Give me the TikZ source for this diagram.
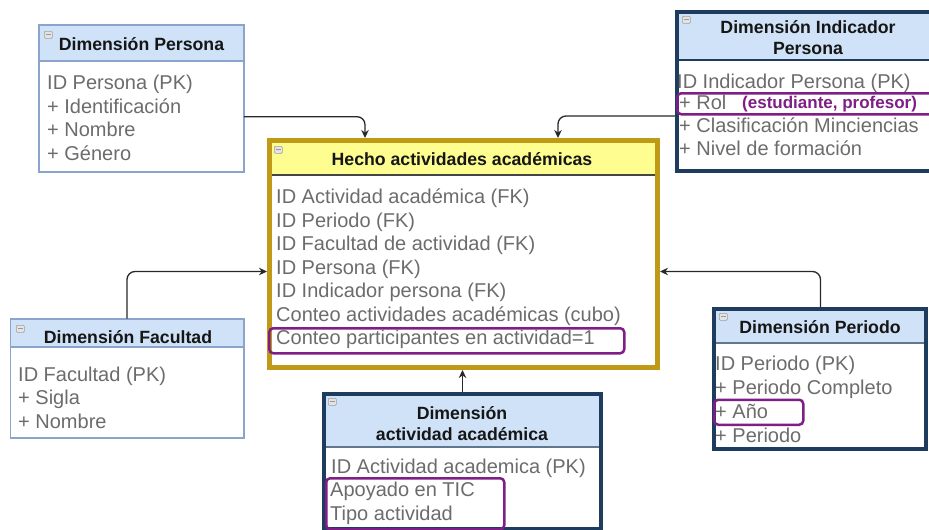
\documentclass[tikz,border=0pt]{standalone}
\usepackage{fontspec}
\setmainfont{Liberation Sans}
\usetikzlibrary{arrows.meta}
\definecolor{hdrblue}{RGB}{207,226,247}
\definecolor{lightborder}{RGB}{138,164,204}
\definecolor{navy}{RGB}{30,61,94}
\definecolor{goldc}{RGB}{192,154,22}
\definecolor{hechoyellow}{RGB}{254,254,144}
\definecolor{hlpurple}{RGB}{126,30,134}
\definecolor{bodygray}{RGB}{108,108,108}
\definecolor{titleblack}{RGB}{22,22,22}
\definecolor{connc}{RGB}{40,40,40}
\begin{document}
\begin{tikzpicture}[x=1pt,y=-1pt,
  frame/.style={draw, inner sep=0pt, outer sep=0pt, anchor=north west},
  lightframe/.style={frame, draw=lightborder, line width=1.5pt},
  darkframe/.style={frame, draw=navy, line width=4pt},
  hdr/.style={fill=hdrblue, inner sep=0pt, outer sep=0pt, anchor=north west},
  ttl/.style={font=\fontsize{17.7}{21}\selectfont\bfseries, text=titleblack, inner sep=0pt, anchor=base},
  attr/.style={font=\fontsize{20}{24}\selectfont, text=bodygray, inner sep=0pt, anchor=base west},
  note/.style={font=\fontsize{17}{20}\selectfont\bfseries, text=hlpurple, inner sep=0pt, anchor=base west},
  hl/.style={draw=hlpurple, line width=2.5pt, rounded corners=4pt},
  conn/.style={draw=connc, line width=1.3pt, rounded corners=8pt, -{Stealth[length=8pt,width=7.5pt]}},
  icon/.style={draw=gray!75, fill=gray!22, rounded corners=1pt, line width=0.6pt, minimum width=8pt, minimum height=7pt, inner sep=0pt, anchor=north west}
]
\useasboundingbox[fill=white] (0,0) rectangle (929,530);

% ---------- Dimension Persona ----------
\fill[white] (39,25) rectangle (244,172);
\node[hdr, minimum width=205pt, minimum height=36pt] (perH) at (39,25) {};
\draw[lightborder, line width=1.5pt] (perH.south west) -- (perH.south east);
\node[lightframe, minimum width=205pt, minimum height=147pt] (per) at (39,25) {};
\node[icon] (perI) at (44,31) {};
\draw[gray!80, line width=0.8pt] ([xshift=2pt]perI.west) -- ([xshift=-2pt]perI.east);
\node[ttl] (perT) at (141.5,50.5) {Dimensión Persona};
\node[attr] (per1) at (47,89.5) {ID Persona (PK)};
\node[attr] (per2) at (47,113) {+ Identificación};
\node[attr] (per3) at (47,136.5) {+ Nombre};
\node[attr] (per4) at (47,160) {+ Género};

% ---------- Dimension Indicador Persona ----------
\fill[white] (677,12) rectangle (939,171);
\node[hdr, minimum width=262pt, minimum height=48pt] (indH) at (677,12) {};
\draw[navy, line width=1.2pt] (indH.south west) -- (indH.south east);
\node[darkframe, minimum width=262pt, minimum height=159pt] (ind) at (677,12) {};
\node[icon] (indI) at (682,16) {};
\draw[gray!80, line width=0.8pt] ([xshift=2pt]indI.west) -- ([xshift=-2pt]indI.east);
\node[ttl] (indT1) at (808,33) {Dimensión Indicador};
\node[ttl] (indT2) at (808,54) {Persona};
\node[attr] (ind1) at (677,88) {ID Indicador Persona (PK)};
\node[hl, minimum width=262pt, minimum height=21pt, inner sep=0pt, anchor=north west] (indHL) at (676,92) {};
\node[attr] (ind2) at (679,109) {+ Rol};
\node[note] (ind2n) at (742,108.5) {(estudiante, profesor)};
\node[attr] (ind3) at (679,132) {+ Clasificación Minciencias};
\node[attr] (ind4) at (679,155) {+ Nivel de formación};

% ---------- Hecho actividades academicas ----------
\fill[white] (267,138) rectangle (660,370);
\node[fill=hechoyellow, inner sep=0pt, outer sep=0pt, anchor=north west, minimum width=383pt, minimum height=32pt] (hecH) at (272,143) {};
\draw[titleblack!80, line width=1.3pt] (hecH.south west) -- (hecH.south east);
\node[frame, draw=goldc, line width=5pt, minimum width=388pt, minimum height=227pt] (hecho) at (269.5,140.5) {};
\node[icon] (hecI) at (274,146) {};
\draw[gray!80, line width=0.8pt] ([xshift=2pt]hecI.west) -- ([xshift=-2pt]hecI.east);
\node[ttl] (hecT) at (462,165) {Hecho actividades académicas};
\node[attr] (hec1) at (276,203.5) {ID Actividad académica (FK)};
\node[attr] (hec2) at (276,227) {ID Periodo (FK)};
\node[attr] (hec3) at (276,250.5) {ID Facultad de actividad (FK)};
\node[attr] (hec4) at (276,274) {ID Persona (FK)};
\node[attr] (hec5) at (276,297.5) {ID Indicador persona (FK)};
\node[attr] (hec6) at (276,321) {Conteo actividades académicas (cubo)};
\node[hl, minimum width=355pt, minimum height=25pt, inner sep=0pt, anchor=north west] (hecHL) at (268,327) {};
\node[attr] (hec7) at (276,344.5) {Conteo participantes en actividad=1};

% ---------- Dimension Facultad ----------
\fill[white] (10.5,319) rectangle (244,438);
\node[hdr, minimum width=233.5pt, minimum height=28pt] (facH) at (10.5,319) {};
\draw[lightborder, line width=1.5pt] (facH.south west) -- (facH.south east);
\node[lightframe, minimum width=233.5pt, minimum height=119pt] (fac) at (10.5,319) {};
\node[icon] (facI) at (16,325) {};
\draw[gray!80, line width=0.8pt] ([xshift=2pt]facI.west) -- ([xshift=-2pt]facI.east);
\node[ttl] (facT) at (128,343) {Dimensión Facultad};
\node[attr] (fac1) at (18,381) {ID Facultad (PK)};
\node[attr] (fac2) at (18,404.5) {+ Sigla};
\node[attr] (fac3) at (18,428) {+ Nombre};

% ---------- Dimension Periodo ----------
\fill[white] (714,309) rectangle (926,449);
\node[hdr, minimum width=212pt, minimum height=34pt] (prdH) at (714,309) {};
\draw[navy!70, line width=1.2pt] (prdH.south west) -- (prdH.south east);
\node[darkframe, minimum width=212pt, minimum height=140pt] (prd) at (714,309) {};
\node[icon] (prdI) at (719,313) {};
\draw[gray!80, line width=0.8pt] ([xshift=2pt]prdI.west) -- ([xshift=-2pt]prdI.east);
\node[ttl] (prdT) at (820,333) {Dimensión Periodo};
\node[attr] (prd1) at (715,370) {ID Periodo (PK)};
\node[attr] (prd2) at (715,394) {+ Periodo Completo};
\node[hl, minimum width=89pt, minimum height=25pt, inner sep=0pt, anchor=north west] (prdHL) at (713,398.5) {};
\node[attr] (prd3) at (715,418) {+ Año};
\node[attr] (prd4) at (715,442) {+ Periodo};

% ---------- Dimension actividad academica ----------
\fill[white] (323.5,394) rectangle (601,529);
\node[hdr, minimum width=277.5pt, minimum height=53pt] (actH) at (323.5,394) {};
\draw[navy!70, line width=1.2pt] (actH.south west) -- (actH.south east);
\node[darkframe, minimum width=277.5pt, minimum height=135pt] (act) at (323.5,394) {};
\node[icon] (actI) at (328,398) {};
\draw[gray!80, line width=0.8pt] ([xshift=2pt]actI.west) -- ([xshift=-2pt]actI.east);
\node[ttl] (actT1) at (462,419.5) {Dimensión};
\node[ttl] (actT2) at (462,440) {actividad académica};
\node[attr] (act1) at (331,473.5) {ID Actividad academica (PK)};
\node[hl, minimum width=178pt, minimum height=51pt, inner sep=0pt, anchor=north west] (actHL) at (325,477) {};
\node[attr] (act2) at (330,496.5) {Apoyado en TIC};
\node[attr] (act3) at (330,520) {Tipo actividad};

% ---------- connectors ----------
\coordinate (perOut) at (244,116.7);
\coordinate (indOut) at (675,116);
\coordinate (facOut) at (127,318.5);
\coordinate (prdOut) at (820.5,307);
\coordinate (actOut) at (462.5,392);
\coordinate (hTopL) at (365,138);
\coordinate (hTopR) at (558,138);
\coordinate (hLeft) at (267,271.5);
\coordinate (hRight) at (660,271.5);
\coordinate (hBot) at (462.5,370);
\draw[conn] (perOut) -| (hTopL);
\draw[conn] (indOut) -| (hTopR);
\draw[conn] (facOut) |- (hLeft);
\draw[conn] (prdOut) |- (hRight);
\draw[conn] (actOut) -- (hBot);
\end{tikzpicture}
\end{document}
